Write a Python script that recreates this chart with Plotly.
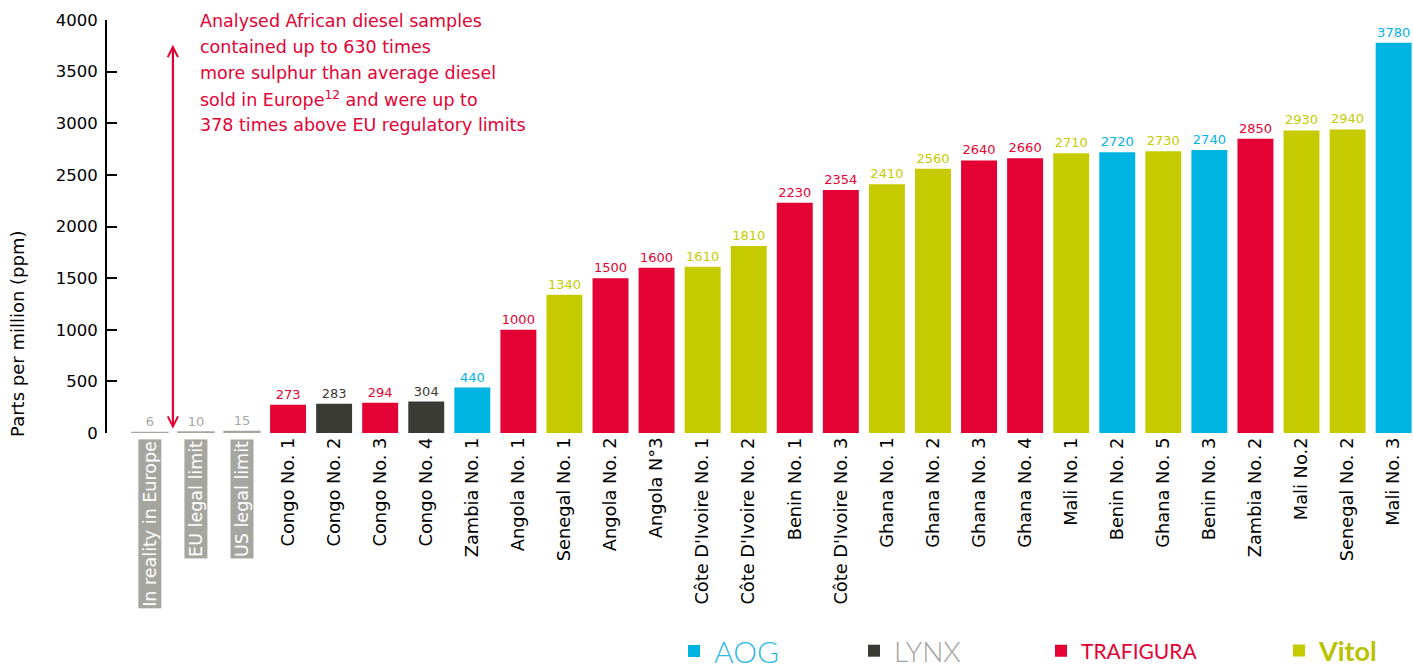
import plotly.graph_objects as go

# samples, ordered by sulphur content (ppm)
categories = ["In reality in Europe", "EU legal limit", "US legal limit",
              "Congo No. 1", "Congo No. 2", "Congo No. 3", "Congo No. 4",
              "Zambia No. 1", "Angola No. 1", "Senegal No. 1", "Angola No. 2",
              "Angola N°3", "Côte D'Ivoire No. 1", "Côte D'Ivoire No. 2",
              "Benin No. 1", "Côte D'Ivoire No. 3", "Ghana No. 1", "Ghana No. 2",
              "Ghana No. 3", "Ghana No. 4", "Mali No. 1", "Benin No. 2",
              "Ghana No. 5", "Benin No. 3", "Zambia No. 2", "Mali No.2",
              "Senegal No. 2", "Mali No. 3"]
ppm = [6, 10, 15, 273, 283, 294, 304, 440, 1000, 1340, 1500, 1600, 1610, 1810,
       2230, 2354, 2410, 2560, 2640, 2660, 2710, 2720, 2730, 2740, 2850, 2930,
       2940, 3780]
company = ["ref", "ref", "ref", "TRAFIGURA", "LYNX", "TRAFIGURA", "LYNX", "AOG",
           "TRAFIGURA", "Vitol", "TRAFIGURA", "TRAFIGURA", "Vitol", "Vitol",
           "TRAFIGURA", "TRAFIGURA", "Vitol", "Vitol", "TRAFIGURA", "TRAFIGURA",
           "Vitol", "AOG", "Vitol", "AOG", "TRAFIGURA", "Vitol", "Vitol", "AOG"]
legend_order = ["AOG", "LYNX", "TRAFIGURA", "Vitol"]

note_lines = ["Analysed African diesel samples",
              "contained up to 630 times",
              "more sulphur than average diesel",
              "sold in Europe<sup>12</sup> and were up to",
              "378 times above EU regulatory limits"]

colors = {"AOG": "#00b4e1", "LYNX": "#3b3b36", "TRAFIGURA": "#e40134",
          "Vitol": "#c6cb00", "ref": "#a6a6a0"}
# legend "logo" styling
logo_style = {
    "AOG": dict(color="#2cb8e6", size=30, weight=300, x=674),
    "LYNX": dict(color="#a3a39d", size=28, weight=300, x=854),
    "TRAFIGURA": dict(color="#e40134", size=21, weight=400, x=1041),
    "Vitol": dict(color="#b9c200", size=27, weight=700, x=1279),
}
FONT = "'DejaVu Sans', sans-serif"

fig = go.Figure()

legend_ids = {"AOG": "legend", "LYNX": "legend2", "TRAFIGURA": "legend3",
              "Vitol": "legend4"}

for name in ["ref"] + legend_order:
    idx = [i for i, c in enumerate(company) if c == name]
    fig.add_trace(go.Bar(
        x=idx, y=[ppm[i] for i in idx], name=name,
        marker=dict(color=colors[name],
                    line=dict(color=colors[name], width=1.5 if name == "ref" else 0)),
        width=0.78,
        text=[str(ppm[i]) for i in idx], textposition="outside",
        textfont=dict(color=colors[name], size=13, family=FONT),
        cliponaxis=False,
        showlegend=(name != "ref"),
        legend=legend_ids.get(name, "legend"),
    ))

# x labels: normal ones as tick labels, reference ones as grey boxes
ticktext = ["" if company[i] == "ref" else categories[i] for i in range(len(categories))]
annotations = []
for i, c in enumerate(company):
    if c == "ref":
        annotations.append(dict(
            x=i, y=0, xref="x", yref="y", text=categories[i], textangle=-90,
            showarrow=False, yanchor="top", yshift=-6, bgcolor="#a6a6a0",
            borderpad=1, font=dict(color="white", size=17.5, family=FONT)))

# y-axis title
annotations.append(dict(x=0, y=960, xref="paper", yref="y", xshift=-89,
                        xanchor="center", text="Parts per million (ppm)",
                        textangle=-90, showarrow=False,
                        font=dict(size=18, color="black", family=FONT)))

# double-headed arrow
annotations.append(dict(x=0.5, y=3760, ax=0.5, ay=60, xref="x", yref="y",
                        axref="x", ayref="y", text="", showarrow=True,
                        arrowhead=5, arrowsize=1, arrowwidth=2, arrowcolor="#e40134"))
annotations.append(dict(x=0.5, y=40, ax=0.5, ay=3740, xref="x", yref="y",
                        axref="x", ayref="y", text="", showarrow=True,
                        arrowhead=5, arrowsize=1, arrowwidth=2, arrowcolor="#e40134"))

# red note, one annotation per line to get the wide line spacing
for k, line in enumerate(note_lines):
    annotations.append(dict(
        x=0.07, y=1, xref="paper", yref="paper", xanchor="left",
        yanchor="middle", yshift=-(1 + 26 * k), showarrow=False, text=line,
        font=dict(color="#e40134", size=17.5, family=FONT)))

legends = {}
for name in legend_order:
    s = logo_style[name]
    legends[legend_ids[name]] = dict(
        orientation="h", xref="container", yref="container",
        x=s["x"] / 1413, xanchor="left", y=19 / 670, yanchor="middle",
        font=dict(size=s["size"], color=s["color"], weight=s["weight"],
                  family="Lato, 'DejaVu Sans', sans-serif"),
        itemwidth=30, bgcolor="rgba(0,0,0,0)")

fig.update_layout(
    width=1413, height=670,
    margin=dict(l=107, r=0, t=20, b=237),
    plot_bgcolor="white", paper_bgcolor="white",
    font=dict(family=FONT, color="black"),
    annotations=annotations,
    xaxis=dict(tickmode="array", tickvals=list(range(len(categories))),
               ticktext=ticktext, tickangle=-90, range=[-0.93, 27.42],
               showline=False, showgrid=False, ticks="", automargin=False,
               tickfont=dict(size=17.8, color="black")),
    yaxis=dict(range=[0, 4000], tickvals=list(range(0, 4001, 500)),
               showline=True, linecolor="black", linewidth=2, automargin=False,
               ticks="inside", ticklen=10, tickwidth=2, tickcolor="black",
               ticklabelstandoff=4,
               showgrid=False, zeroline=False,
               tickfont=dict(size=16.5, color="black")),
    **legends,
)

fig.write_html("out.html", config={"displayModeBar": False},
               post_script="document.body.style.margin='0';")
